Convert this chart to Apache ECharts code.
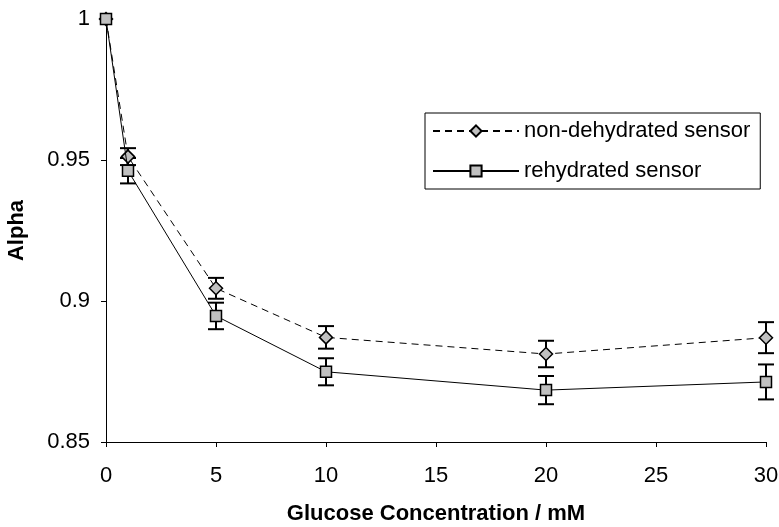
<!DOCTYPE html>
<html lang="en">
<head>
    <meta charset="UTF-8">
    <title>Alpha vs glucose</title>
<script src="https://cdn.jsdelivr.net/npm/echarts@6/dist/echarts.min.js"></script>
<style>
  html, body { margin: 0; padding: 0; background: #fff; }
  #chart { width: 779px; height: 527px; }
</style>
</head>
<body>
<div id="chart"></div>

<script>
  // 葡萄糖浓度 mM
  var glucose = [0, 1, 5, 10, 20, 30];
  // non-dehydrated sensor
  var nonDehydrated = [1, 0.9512, 0.9045, 0.8871, 0.8812, 0.8870];
  var nonDehydratedErr = [0, 0.003, 0.0037, 0.004, 0.0047, 0.0055];
  // rehydrated sensor
  var rehydrated = [1, 0.9462, 0.8947, 0.8749, 0.8684, 0.8713];
  var rehydratedErr = [0, 0.0045, 0.0047, 0.0048, 0.005, 0.0062];

  var yTicks = [0.85, 0.9, 0.95, 1];
  var seriesNames = ['non-dehydrated sensor', 'rehydrated sensor'];

  var fontName = '"Liberation Sans", Arial, sans-serif';

  function pairs(ys) {
    return glucose.map(function (x, i) { return [x, ys[i]]; });
  }
  function errRows(ys, err) {
    var rows = [];
    glucose.forEach(function (x, i) {
      if (err[i] > 0) rows.push([x, ys[i] - err[i], ys[i] + err[i]]);
    });
    return rows;
  }

  // 误差棒
  function renderErr(params, api) {
    var lo = api.coord([api.value(0), api.value(1)]);
    var hi = api.coord([api.value(0), api.value(2)]);
    var half = 8;
    var st = { stroke: '#000', lineWidth: 2 };
    return {
      type: 'group',
      children: [
        { type: 'line', shape: { x1: lo[0], y1: lo[1], x2: hi[0], y2: hi[1] }, style: st },
        { type: 'line', shape: { x1: lo[0] - half, y1: lo[1], x2: lo[0] + half, y2: lo[1] }, style: st },
        { type: 'line', shape: { x1: hi[0] - half, y1: hi[1], x2: hi[0] + half, y2: hi[1] }, style: st }
      ]
    };
  }

  var myChart = echarts.init(document.getElementById('chart'));
  var option = {
    backgroundColor: '#fff',
    animation: false,
    textStyle: { fontFamily: fontName },
    grid: { left: 106, right: 13, top: 19, bottom: 85, outerBoundsMode: 'none' },
    legend: {
      orient: 'vertical',
      left: 425,
      top: 113,
      padding: [7, 10, 7, 7],
      itemGap: 18,
      itemWidth: 86,
      itemHeight: 14,
      backgroundColor: '#fff',
      borderColor: '#000',
      borderWidth: 1,
      borderRadius: 0,
      textStyle: { fontSize: 22, color: '#000', fontFamily: fontName },
      data: seriesNames
    },
    xAxis: {
      type: 'value',
      min: 0,
      max: 30,
      interval: 5,
      name: 'Glucose Concentration / mM',
      nameLocation: 'middle',
      nameGap: 61,
      nameTextStyle: { fontSize: 22, fontWeight: 'bold', color: '#000', fontFamily: fontName },
      axisLine: { lineStyle: { color: '#000', width: 1 } },
      axisTick: { show: true, length: 5, lineStyle: { color: '#000' } },
      axisLabel: { fontSize: 22, color: '#000', margin: 23 },
      splitLine: { show: false }
    },
    yAxis: {
      type: 'value',
      min: yTicks[0],
      max: yTicks[yTicks.length - 1],
      interval: 0.05,
      name: 'Alpha',
      nameLocation: 'middle',
      nameGap: 78,
      nameRotate: 90,
      nameTextStyle: { fontSize: 22, fontWeight: 'bold', color: '#000', fontFamily: fontName },
      axisLine: { show: true, lineStyle: { color: '#000', width: 1 } },
      axisTick: { show: true, length: 5, lineStyle: { color: '#000' } },
      axisLabel: { fontSize: 22, color: '#000', margin: 16 },
      splitLine: { show: false }
    },
    series: [
      {
        type: 'custom',
        renderItem: renderErr,
        data: errRows(nonDehydrated, nonDehydratedErr),
        z: 1,
        silent: true
      },
      {
        type: 'custom',
        renderItem: renderErr,
        data: errRows(rehydrated, rehydratedErr),
        z: 1,
        silent: true
      },
      {
        name: seriesNames[0],
        type: 'line',
        data: pairs(nonDehydrated),
        clip: false,
        symbol: 'diamond',
        symbolSize: 13,
        showAllSymbol: true,
        lineStyle: { color: '#000', width: 1, type: [7, 5] },
        itemStyle: { color: '#c0c0c0', borderColor: '#000', borderWidth: 1.5 },
        z: 3
      },
      {
        name: seriesNames[1],
        type: 'line',
        data: pairs(rehydrated),
        clip: false,
        symbol: 'rect',
        symbolSize: 11,
        showAllSymbol: true,
        lineStyle: { color: '#000', width: 1 },
        itemStyle: { color: '#c0c0c0', borderColor: '#000', borderWidth: 1.5 },
        z: 4
      }
    ]
  };
  myChart.setOption(option);
</script>

</body>
</html>
